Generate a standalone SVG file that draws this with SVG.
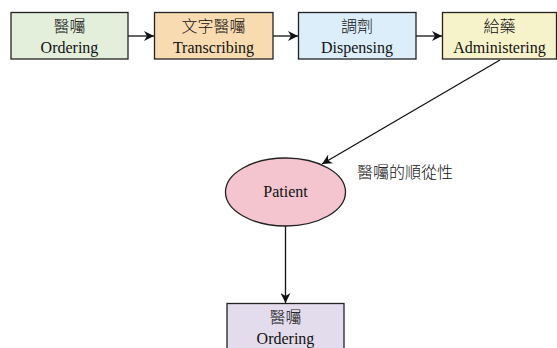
<svg xmlns="http://www.w3.org/2000/svg" width="557" height="348" viewBox="0 0 557 348">
<style>
.n{stroke:#222;stroke-width:1.3}
.t{font-family:"Liberation Serif","Noto Sans CJK TC",serif;font-size:16px;fill:#111;text-anchor:middle}
.c{font-family:"Noto Sans CJK TC","Noto Sans CJK SC",sans-serif;font-size:16px;font-weight:300;fill:#111;text-anchor:middle}
.e{stroke:#111;stroke-width:1.3;fill:none}
</style>
<defs>
<marker id="a" viewBox="0 0 10 10" refX="10" refY="5" markerWidth="10" markerHeight="10" markerUnits="userSpaceOnUse" orient="auto">
<path d="M0,0 L10,5 L0,10 L3,5 Z" fill="#111"/>
</marker>
</defs>
<rect width="557" height="348" fill="#fff"/>
<g id="connectors">
<line class="e" x1="128" y1="36" x2="154" y2="36" marker-end="url(#a)"/>
<line class="e" x1="273" y1="36" x2="298" y2="36" marker-end="url(#a)"/>
<line class="e" x1="416" y1="36" x2="442" y2="36" marker-end="url(#a)"/>
<line class="e" x1="500" y1="60" x2="322" y2="164" marker-end="url(#a)"/>
<line class="e" x1="285.5" y1="226" x2="285.5" y2="303" marker-end="url(#a)"/>
<text class="c" x="405" y="178">醫囑的順從性</text>
</g>
<g id="ordering">
<rect class="n" x="11" y="12.5" width="117" height="46.5" fill="#e3eedb"/>
<text class="c" x="69.5" y="32">醫囑</text>
<text class="t" x="69.5" y="53">Ordering</text>
</g>
<g id="transcribing">
<rect class="n" x="154.5" y="12.5" width="118.5" height="46.5" fill="#f8dbb0"/>
<text class="c" x="213.5" y="32">文字醫囑</text>
<text class="t" x="213.5" y="53">Transcribing</text>
</g>
<g id="dispensing">
<rect class="n" x="298.5" y="12.5" width="117.5" height="46.5" fill="#dbeef9"/>
<text class="c" x="357" y="32">調劑</text>
<text class="t" x="357" y="53">Dispensing</text>
</g>
<g id="administering">
<rect class="n" x="442.5" y="12.5" width="114" height="46.5" fill="#f6f3ca"/>
<text class="c" x="499.5" y="32">給藥</text>
<text class="t" x="499.5" y="53">Administering</text>
</g>
<g id="patient">
<ellipse class="n" cx="285.5" cy="192" rx="60" ry="34" fill="#f4c5ce"/>
<text class="t" x="285.5" y="197">Patient</text>
</g>
<g id="ordering2">
<rect class="n" x="227" y="303.5" width="117" height="50" fill="#e3dcec"/>
<text class="c" x="285.5" y="323">醫囑</text>
<text class="t" x="285.5" y="344">Ordering</text>
</g>
</svg>
